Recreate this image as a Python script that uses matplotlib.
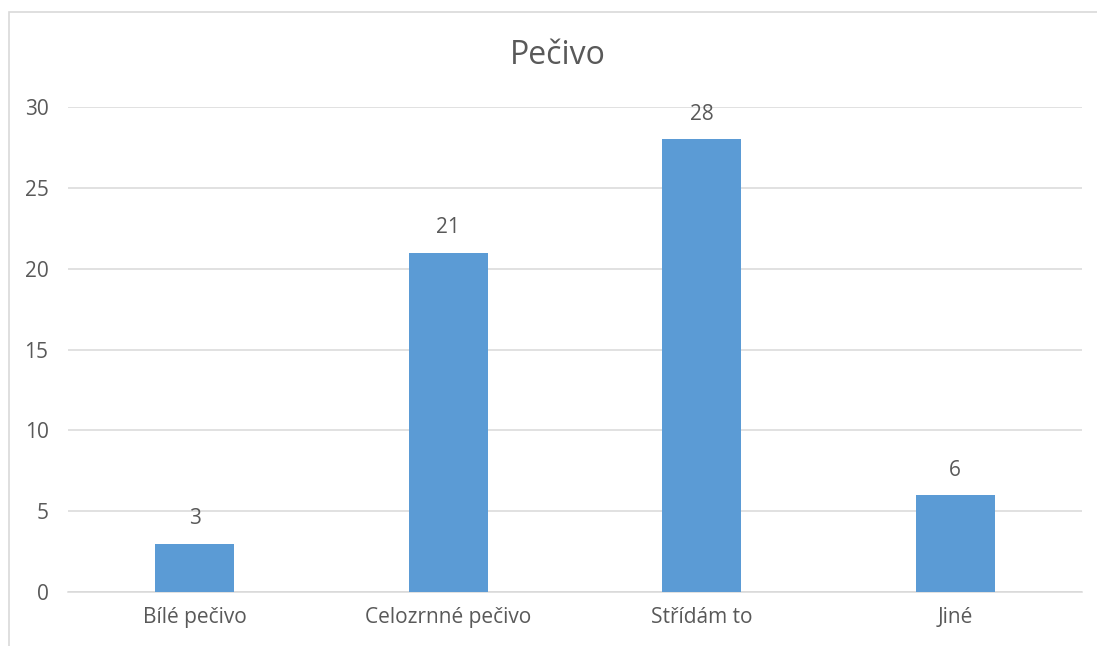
import matplotlib
matplotlib.use("Agg")
import matplotlib.pyplot as plt
from matplotlib.patches import Rectangle

categories = ["Bílé pečivo", "Celozrnné pečivo", "Střídám to", "Jiné"]
counts = [3, 21, 28, 6]
y_ticks = [0, 5, 10, 15, 20, 25, 30]
title = "Pečivo"

plt.rcParams["font.family"] = ["Open Sans", "DejaVu Sans"]
text_color = "#595959"
grid_color = "#D9D9D9"
bar_color = "#5B9BD5"

W, H = 1097, 646
fig = plt.figure(figsize=(W / 100, H / 100), dpi=100)

# chart frame (only its left and top edges fall inside the image)
fig.patches.append(Rectangle((9 / W, -0.2), 1.5, 1.2 - 12 / H, transform=fig.transFigure,
                             fill=False, edgecolor="#D9D9D9", linewidth=1.2))

ax = fig.add_axes([68 / W, 1 - 592 / H, (1082 - 68) / W, (592 - 107) / H])
x = range(len(categories))
bars = ax.bar(x, counts, width=0.31, color=bar_color, zorder=3)

ax.set_xlim(-0.5, len(categories) - 0.5)
ax.set_ylim(0, 30)
ax.set_yticks(y_ticks)
ax.set_xticks(list(x))
ax.set_xticklabels(categories)
ax.yaxis.grid(True, color=grid_color, linewidth=1.1, zorder=0)
for s in ["left", "right", "top"]:
    ax.spines[s].set_visible(False)
ax.spines["bottom"].set_color(grid_color)
ax.spines["bottom"].set_linewidth(1.1)
ax.tick_params(axis="both", length=0, colors=text_color, labelsize=15)
ax.tick_params(axis="y", pad=14)
ax.tick_params(axis="x", pad=11)

for b, v in zip(bars, counts):
    ax.annotate(str(v), (b.get_x() + b.get_width() / 2, v), xytext=(0, 18),
                textcoords="offset points", ha="center", va="center",
                color=text_color, fontsize=15)

fig.text(558 / W, 1 - 55 / H, title, ha="center", va="center",
         color=text_color, fontsize=23)

fig.savefig("out.png", dpi=100)
